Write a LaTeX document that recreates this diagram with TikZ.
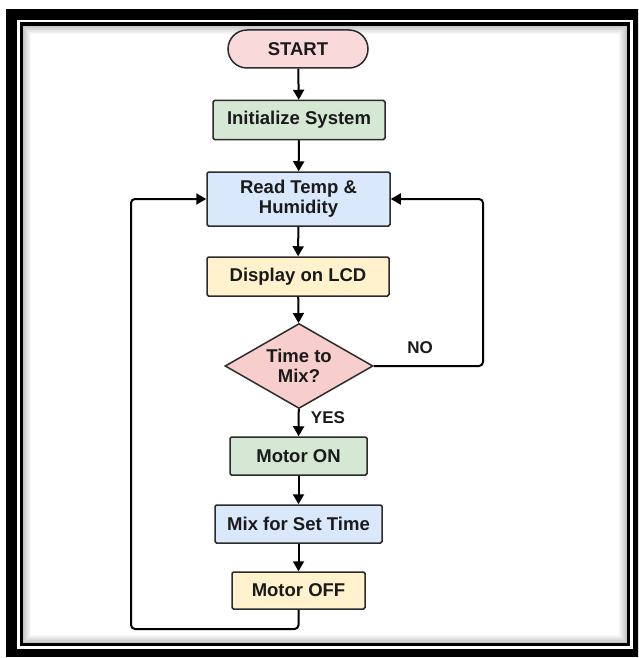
\documentclass[tikz,border=0pt]{standalone}
\usepackage{fontspec}
\setmainfont{Liberation Sans}
\usetikzlibrary{shapes.geometric,arrows.meta,calc}
\definecolor{termpink}{HTML}{F9D9DA}
\definecolor{decpink}{HTML}{F8CECC}
\definecolor{boxgreen}{HTML}{D5E8D4}
\definecolor{boxblue}{HTML}{DAE8FC}
\definecolor{boxyellow}{HTML}{FFF2CC}
\definecolor{edge}{HTML}{2B2B2B}
\definecolor{txt}{HTML}{1A1A1A}
\tikzset{
  base/.style={draw=edge, line width=1.5pt, text=txt, font=\bfseries\fontsize{18.5}{20}\selectfont, align=center, inner sep=0pt},
  term/.style={base, rounded corners=19pt, fill=termpink},
  procbox/.style={base, rectangle, rounded corners=1.5pt},
  decbox/.style={base, diamond, aspect=1.74, fill=decpink, minimum width=148pt, minimum height=85pt},
  flow/.style={draw=black, line width=2pt, rounded corners=4pt, -{Triangle[length=10pt,width=11pt]}},
  lbl/.style={text=txt, font=\bfseries\fontsize{17}{19}\selectfont, inner sep=0pt}
}
\begin{document}
\begin{tikzpicture}[x=1pt,y=-1pt]
\path[use as bounding box, clip] (0,0) rectangle (638,658);
\fill[white] (0,0) rectangle (638,658);
% frame
\fill[black] (6,9) rectangle (646,657);
\fill[white] (17,20) rectangle (633,649);
\fill[black] (19.5,22.5) rectangle (630,646);
\fill[white] (23,26) rectangle (627,643);
\foreach \i in {0,...,7}{
  \pgfmathsetmacro{\op}{0.22*(1-\i/8)}
  \draw[black, line width=1.1pt, opacity=\op] (23.5+\i,26.5+\i) rectangle (626.5-\i,642.5-\i);
}
% nodes
\node[term, minimum width=140pt, minimum height=38pt] (start) at (298,49) {START};
\node[procbox, fill=boxgreen, minimum width=172pt, minimum height=39pt] (init) at (299,120) {Initialize System};
\node[procbox, fill=boxblue, minimum width=183pt, minimum height=54pt] (read) at (298.5,199) {Read Temp \&\\Humidity};
\node[procbox, fill=boxyellow, minimum width=182pt, minimum height=39pt] (disp) at (298,276.5) {Display on LCD};
\node[decbox] (dec) at (299,366) {Time to\\Mix?};
\node[procbox, fill=boxgreen, minimum width=137pt, minimum height=38pt] (mon) at (298.5,456) {Motor ON};
\node[procbox, fill=boxblue, minimum width=167pt, minimum height=38pt] (mix) at (298.5,524) {Mix for Set Time};
\node[procbox, fill=boxyellow, minimum width=133pt, minimum height=37pt] (moff) at (298.5,590.5) {Motor OFF};
% connectors
\draw[flow] (start) -- (init);
\draw[flow] (init) -- (read);
\draw[flow] (read) -- (disp);
\draw[flow] (disp) -- (dec);
\draw[flow] (dec) -- (mon);
\draw[flow] (mon) -- (mix);
\draw[flow] (mix) -- (moff);
\coordinate (lb) at (131,629);
\draw[flow] (moff.south) |- (lb) |- (read.west);
\coordinate (nr) at (483,366);
\draw[flow] (dec.east) -- (nr) |- (read.east);
% labels
\node[lbl] (no) at (420,348) {NO};
\node[lbl] (yes) at (328,418) {YES};
\end{tikzpicture}
\end{document}
